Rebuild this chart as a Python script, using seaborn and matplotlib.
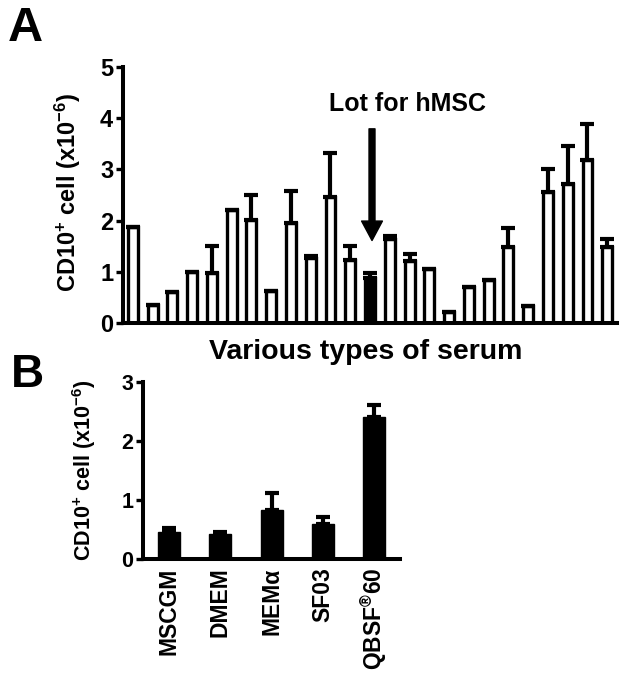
import matplotlib
matplotlib.use("Agg")
import matplotlib.pyplot as plt
import numpy as np
import seaborn as sns

# ---- panel A: CD10+ cells for each serum lot ----
serum_lots = [str(i) for i in range(1, 26)]
serum_vals = [1.88, 0.36, 0.61, 0.99, 0.98, 2.20, 2.01, 0.62, 1.95, 1.27,
              2.46, 1.23, 0.88, 1.63, 1.21, 1.05, 0.21, 0.71, 0.84, 1.48,
              0.33, 2.55, 2.71, 3.19, 1.49]
serum_errs = [0, 0, 0, 0, 0.52, 0, 0.48, 0, 0.63, 0.04,
              0.85, 0.27, 0.09, 0.07, 0.14, 0, 0, 0, 0, 0.37,
              0, 0.45, 0.75, 0.70, 0.14]
chosen_lot = "13"  # lot used for hMSC, drawn filled

# ---- panel B: media ----
media = ["MSCGM", "DMEM", "MEMα", "SF03", r"QBSF$^{\circledR}$60"]
media_vals = [0.46, 0.42, 0.83, 0.59, 2.41]
media_errs = [0.06, 0.03, 0.28, 0.12, 0.19]

sns.set_style("ticks")
plt.rcParams["font.family"] = ["Liberation Sans", "DejaVu Sans"]
plt.rcParams["font.weight"] = "bold"
plt.rcParams["mathtext.fontset"] = "custom"
plt.rcParams["mathtext.rm"] = "Liberation Sans:bold"
plt.rcParams["mathtext.bf"] = "Liberation Sans:bold"
plt.rcParams["mathtext.default"] = "bf"
for key in ("text.color", "axes.labelcolor", "xtick.color", "ytick.color", "axes.edgecolor"):
    plt.rcParams[key] = "black"

ylab = r"CD10$^{+}$ cell (x10$^{-6}$)"

fig = plt.figure(figsize=(6.24, 6.74), dpi=100)
axA = fig.add_axes([0.197, 0.5208, 0.792, 0.380])
axB = fig.add_axes([0.2297, 0.1706, 0.411, 0.263])


def style_axis(ax, tick_fs):
    sns.despine(ax=ax)
    for s in ("left", "bottom"):
        ax.spines[s].set_linewidth(2.9)
        ax.spines[s].set_color("black")
    ax.tick_params(axis="y", direction="out", length=5, width=2.4,
                   labelsize=tick_fs, pad=2, colors="black")
    ax.grid(False)


# Panel A
colors_a = {lot: ("black" if lot == chosen_lot else "white") for lot in serum_lots}
sns.barplot(x=serum_lots, y=serum_vals, hue=serum_lots, palette=colors_a,
            legend=False, width=0.5, edgecolor="black", linewidth=2.4,
            saturation=1, errorbar=None, ax=axA)
xa = np.arange(len(serum_lots))
axA.errorbar(xa, serum_vals, yerr=[np.zeros(len(xa)), serum_errs], fmt="none",
             ecolor="black", elinewidth=3, capsize=4.7, capthick=3)
axA.set_xlim(-0.5, 24.5)
axA.set_ylim(0, 5)
axA.set_yticks([0, 1, 2, 3, 4, 5])
axA.set_xticks([])
style_axis(axA, 17)
axA.set_ylabel(ylab, fontsize=17, fontweight="bold")
axA.yaxis.set_label_coords(-0.081, 0.51)
axA.set_xlabel("Various types of serum", fontsize=20.5, fontweight="bold", va="center")
axA.xaxis.set_label_coords(0.492, -0.113)

axA.text(13.9, 4.27, "Lot for hMSC", ha="center", va="center",
         fontsize=18, fontweight="bold")
axA.annotate("", xy=(12.1, 1.61), xytext=(12.1, 3.79),
             arrowprops=dict(facecolor="black", edgecolor="black",
                             width=4.3, headwidth=15, headlength=14, shrink=0))

# Panel B
sns.barplot(x=media, y=media_vals, color="black", width=0.43,
            edgecolor="black", linewidth=1, saturation=1, errorbar=None, ax=axB)
xb = np.arange(len(media))
axB.errorbar(xb, media_vals, yerr=[np.zeros(len(xb)), media_errs], fmt="none",
             ecolor="black", elinewidth=3, capsize=4.7, capthick=3)
axB.set_xlim(-0.5, 4.5)
axB.set_ylim(0, 3)
axB.set_yticks([0, 1, 2, 3])
style_axis(axB, 15.5)
axB.tick_params(axis="x", length=0, labelsize=16.5, pad=6, rotation=90)
for lab in axB.get_xticklabels():
    lab.set_fontweight("bold")
axB.set_xlabel("")
axB.set_ylabel(ylab, fontsize=15.5, fontweight="bold")
axB.yaxis.set_label_coords(-0.176, 0.5)

# panel letters
fig.text(8 / 624, 1 - 6 / 674, "A", ha="left", va="top", fontsize=35, fontweight="bold")
fig.text(11 / 624, 1 - 353 / 674, "B", ha="left", va="top", fontsize=33, fontweight="bold")

fig.savefig("out.png", dpi=100, facecolor="white")
